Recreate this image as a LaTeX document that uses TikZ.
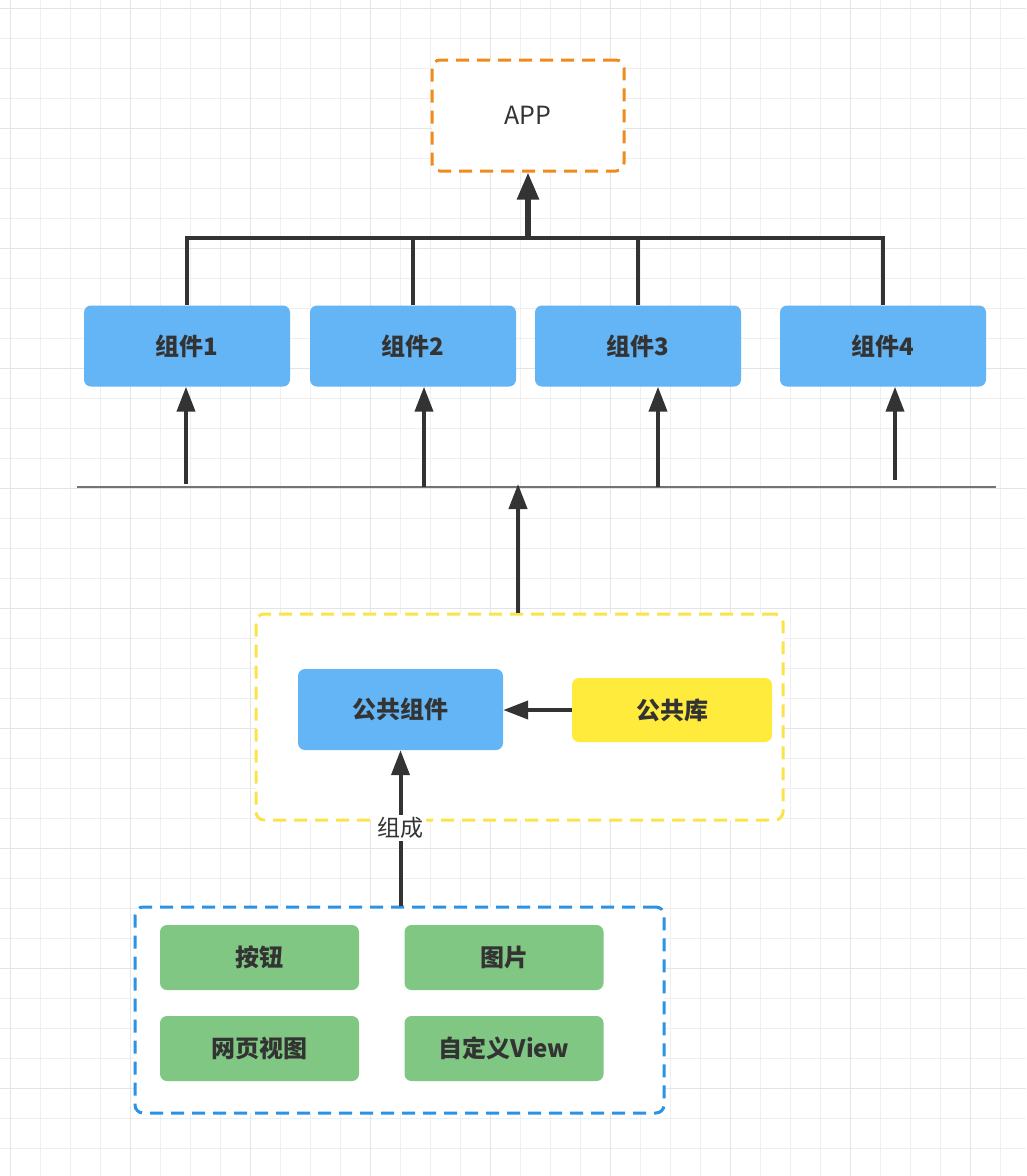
\documentclass[tikz,border=0pt]{standalone}
\usepackage{fontspec}
\setmainfont{Noto Sans CJK SC}
\usetikzlibrary{positioning,arrows.meta,calc}
\definecolor{ink}{HTML}{333333}
\definecolor{sky}{HTML}{64B5F6}
\definecolor{sun}{HTML}{FFEB3B}
\definecolor{moss}{HTML}{81C784}
\definecolor{tang}{HTML}{F08A1C}
\definecolor{lemon}{HTML}{FBE44A}
\definecolor{ocean}{HTML}{2A93E6}
\definecolor{gridgray}{HTML}{EFEFEF}
\definecolor{gridmajor}{HTML}{E4E4E4}
\tikzset{
  boxtext/.style={font=\fontsize{24}{28}\selectfont\bfseries,text=ink},
  comp/.style={boxtext,fill=sky,rounded corners=7pt,minimum width=206pt,minimum height=81pt,inner sep=0pt},
  lib/.style={boxtext,fill=sun,rounded corners=7pt,minimum width=200pt,minimum height=64pt,inner sep=0pt},
  widget/.style={boxtext,fill=moss,rounded corners=7pt,minimum width=199pt,minimum height=65pt,inner sep=0pt},
  grp/.style={line width=3pt,dash pattern=on 13pt off 8pt,rounded corners=8pt,fill=white,inner sep=0pt},
  link/.style={line width=4pt,draw=ink},
  arr/.style={link,-{Triangle[length=25pt,width=18pt]}},
  lbl/.style={font=\fontsize{23}{27}\selectfont,text=ink,fill=white,inner sep=2pt}
}
\begin{document}
\begin{tikzpicture}[x=1pt,y=-1pt]
  \useasboundingbox (0,0) rectangle (1026,1176);
  \fill[white] (0,0) rectangle (1026,1176);
  \foreach \x in {10.5,40.5,...,1026} {
    \draw[gridgray,line width=1.2pt] (\x,0) -- (\x,1176);
  }
  \foreach \y in {8.5,38.5,...,1176} {
    \draw[gridgray,line width=1.2pt] (0,\y) -- (1026,\y);
  }
  \foreach \x in {10.5,130.5,...,1026} {
    \draw[gridmajor,line width=1.2pt] (\x,0) -- (\x,1176);
  }
  \foreach \y in {8.5,128.5,...,1176} {
    \draw[gridmajor,line width=1.2pt] (0,\y) -- (1026,\y);
  }

  \node[grp,draw=tang,minimum width=192pt,minimum height=111pt,font=\fontsize{25}{29}\selectfont,text=ink] (app) at (528,115.5) {APP};

  \node[comp] (c1) at (187,346) {组件1};
  \node[comp] (c2) at (413,346) {组件2};
  \node[comp] (c3) at (638,346) {组件3};
  \node[comp] (c4) at (883,346) {组件4};

  \coordinate (bus) at (528,238);
  \draw[link] (c1.north) |- (c4.north |- bus) -- (c4.north);
  \draw[link] (c2.north) -- (c2.north |- bus);
  \draw[link] (c3.north) -- (c3.north |- bus);
  \draw[arr,line width=5.5pt,-{Triangle[length=27pt,width=21pt]}] (bus) -- (app.south);

  \coordinate (railL) at (77,487);
  \coordinate (railR) at (996,487);
  \draw[gray!90!black,line width=1.6pt] (railL) -- (railR);

  \coordinate (f1) at (186,484);
  \coordinate (f2) at (424,487);
  \coordinate (f3) at (658,487);
  \coordinate (f4) at (895,480);
  \draw[arr] (f1) -- (f1 |- c1.south);
  \draw[arr] (f2) -- (f2 |- c2.south);
  \draw[arr] (f3) -- (f3 |- c3.south);
  \draw[arr] (f4) -- (f4 |- c4.south);

  \node[grp,draw=lemon,minimum width=527pt,minimum height=206pt] (shared) at (519.5,717) {};
  \node[comp,minimum width=205pt] (pubcomp) at (400.5,709.5) {公共组件};
  \node[lib] (publib) at (672,710) {公共库};
  \coordinate (up) at (518,484);
  \draw[arr] (shared.north -| up) -- (up);
  \draw[arr] (publib.west) -- (pubcomp.east |- publib.west);

  \node[grp,draw=ocean,minimum width=529pt,minimum height=206pt] (basic) at (399.5,1010) {};
  \node[widget] (btn) at (259.5,957.5) {按钮};
  \node[widget] (img) at (504,957.5) {图片};
  \node[widget] (web) at (259.5,1048.5) {网页视图};
  \node[widget] (custom) at (504,1048.5) {自定义View};

  \draw[arr] (basic.north -| pubcomp.south) -- node[lbl,pos=0.5] {组成} (pubcomp.south);
\end{tikzpicture}
\end{document}
